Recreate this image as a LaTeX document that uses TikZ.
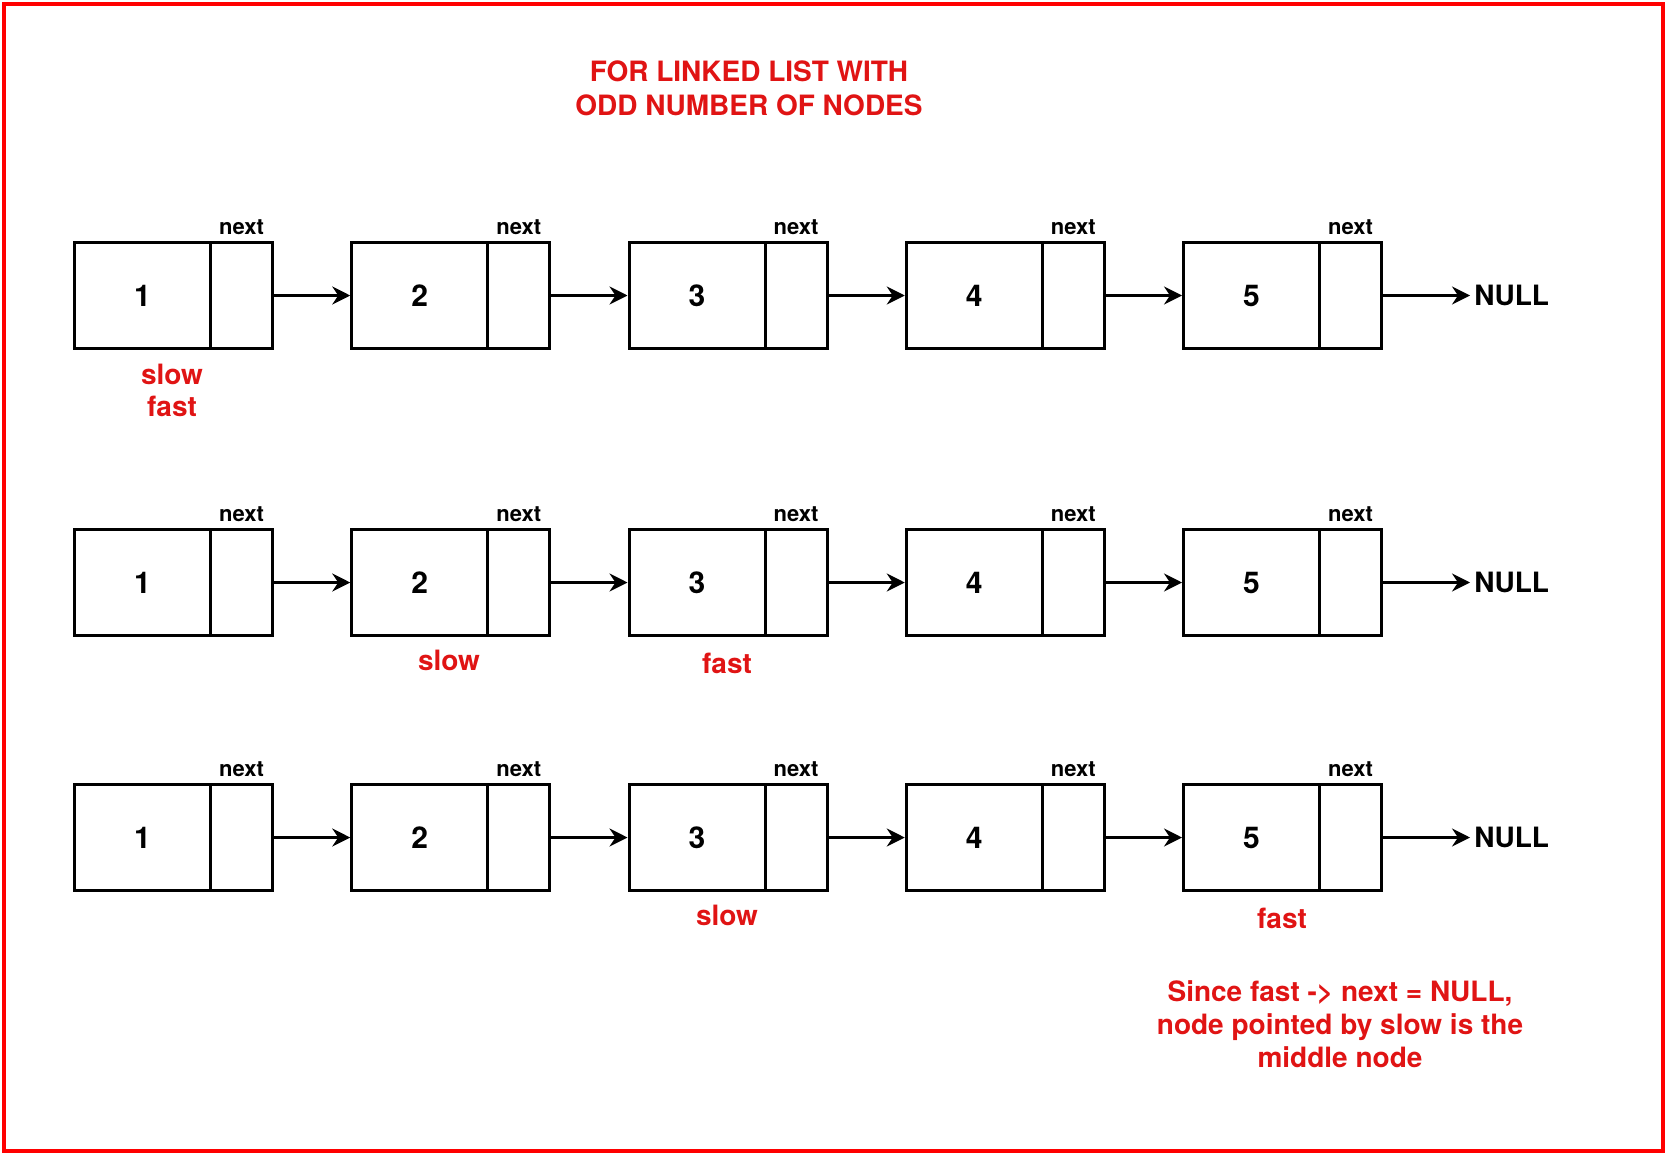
\documentclass[tikz,border=0pt]{standalone}
\usepackage{fontspec}
\setmainfont{TeX Gyre Heros}
\usetikzlibrary{arrows.meta}
\definecolor{txtred}{RGB}{224,20,20}
\definecolor{framered}{RGB}{255,0,0}
\begin{document}
\begin{tikzpicture}[x=0.5pt,y=-0.5pt,
  datacell/.style={draw, line width=1.5pt, minimum width=68pt, minimum height=53pt,
    inner sep=0pt, anchor=north west, font=\bfseries\fontsize{15}{18}\selectfont},
  ptrcell/.style={draw, line width=1.5pt, minimum width=31pt, minimum height=53pt,
    inner sep=0pt, anchor=north west},
  nextlbl/.style={anchor=base, inner sep=0pt, font=\bfseries\fontsize{11}{13}\selectfont},
  nulllbl/.style={anchor=west, inner sep=2pt, font=\bfseries\fontsize{14}{16}\selectfont},
  ptrlbl/.style={inner sep=1pt, text=txtred, align=center, font=\bfseries\fontsize{14}{16}\selectfont},
  titlelbl/.style={inner sep=1pt, text=txtred, align=center, font=\bfseries\fontsize{14}{17}\selectfont},
  notelbl/.style={inner sep=1pt, text=txtred, align=center, font=\bfseries\fontsize{14}{16.5}\selectfont},
  link/.style={line width=1.4pt, -{Stealth[length=9pt, width=9pt, inset=3pt]}}
]
\useasboundingbox (0,0) rectangle (1668,1156);
\draw[framered, line width=2pt] (4,4) rectangle (1663,1151);

\node[titlelbl] (title) at (749,88) {FOR LINKED LIST WITH\\ODD NUMBER OF NODES};

\foreach \r/\t in {1/241,2/528,3/783}{
  \foreach \i in {1,...,5}{
    \pgfmathsetmacro\lx{73+277.25*(\i-1)}
    \node[datacell] (d\r\i) at (\lx,\t) {\i};
    \node[ptrcell] (p\r\i) at (\lx+136,\t) {};
    \node[nextlbl] (n\r\i) at ([yshift=3.5pt]p\r\i.north) {next};
  }
  \foreach \i [evaluate=\i as \j using int(\i+1)] in {1,...,4}{
    \draw[link] (p\r\i.east) -- (d\r\j.west);
  }
  \node[nulllbl] (null\r) at ([xshift=43.5pt]p\r5.east) {NULL};
  \draw[link] (p\r5.east) -- (null\r.west);
}

\node[ptrlbl] (sf1) at (172,390) {slow\\fast};
\node[ptrlbl] (s2) at (449,660) {slow};
\node[ptrlbl] (f2) at (727,663) {fast};
\node[ptrlbl] (s3) at (727,915) {slow};
\node[ptrlbl] (f3) at (1282,918) {fast};

\node[notelbl] (note) at (1340,1024) {Since fast -> next = NULL,\\node pointed by slow is the\\middle node};
\end{tikzpicture}
\end{document}
